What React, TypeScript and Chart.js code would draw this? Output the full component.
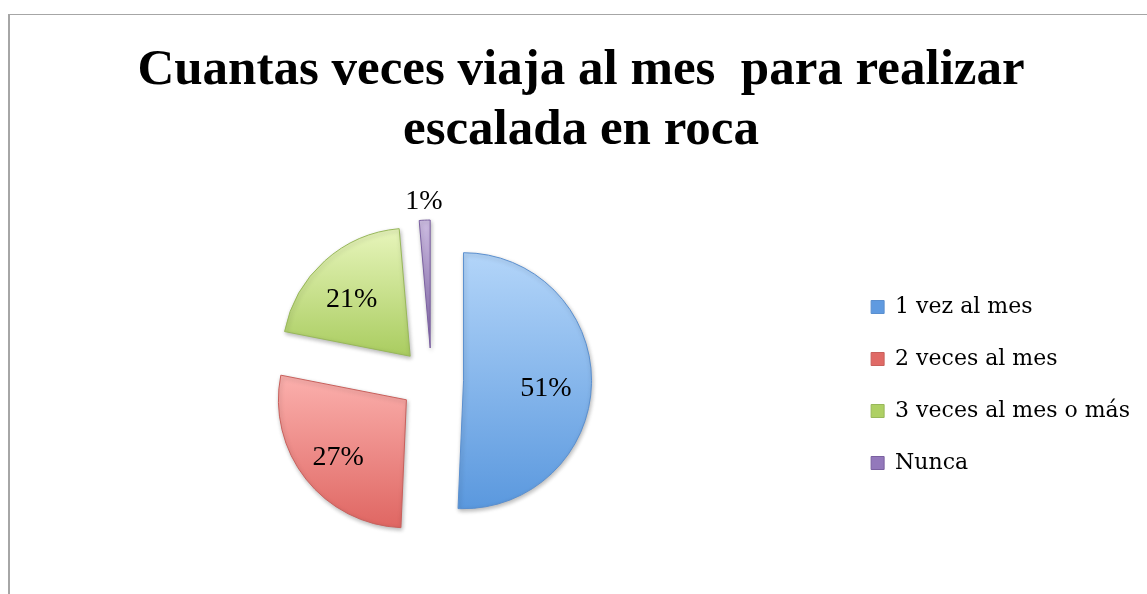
import React, { useEffect, useRef } from 'react';
import { Chart, registerables } from 'chart.js';

Chart.register(...registerables);

const TITLE_LINES = ['Cuantas veces viaja al mes  para realizar', 'escalada en roca'];
const CATEGORIES = ['1 vez al mes', '2 veces al mes', '3 veces al mes o más', 'Nunca'];
// estimated answer counts (labels shown as rounded percentages: 51%, 27%, 21%, 1%)
const VALUES = [37, 20, 15, 1];
const BASE_COLORS = ['#5f9ae0', '#e06a66', '#aed064', '#9378bb'];
const LIGHT_COLORS = ['#b3d5f9', '#fbb0ad', '#e7f5bb', '#cdbde2'];
const DARK_COLORS = ['#5a98de', '#df6662', '#a9cc5f', '#8568ad'];
const EDGE_COLORS = ['#5a8fcf', '#c8605c', '#98b85a', '#7a60a0'];

const EXPLODE = 32;
const RADIUS = 128;

const total = VALUES.reduce((a, b) => a + b, 0);

const slicePlugin = {
  id: 'sliceStyle',
  beforeDatasetsDraw(chart: any) {
    const meta = chart.getDatasetMeta(0);
    const ctx = chart.ctx;
    const area = chart.chartArea;
    const cx = (area.left + area.right) / 2;
    const cy = (area.top + area.bottom) / 2;
    meta.data.forEach((el: any, i: number) => {
      const { startAngle, endAngle } = el;
      const mid = (startAngle + endAngle) / 2;
      // explode each slice outward along its bisector
      el.x = cx + Math.cos(mid) * EXPLODE;
      el.y = cy + Math.sin(mid) * EXPLODE;
      let minY = el.y;
      let maxY = el.y;
      for (let k = 0; k <= 60; k++) {
        const a = startAngle + ((endAngle - startAngle) * k) / 60;
        const py = el.y + Math.sin(a) * el.outerRadius;
        minY = Math.min(minY, py);
        maxY = Math.max(maxY, py);
      }
      const g = ctx.createLinearGradient(el.x, minY, el.x, maxY + 1);
      g.addColorStop(0, LIGHT_COLORS[i]);
      g.addColorStop(1, DARK_COLORS[i]);
      el.options = Object.assign({}, el.options, { backgroundColor: g });
    });
    ctx.save();
    ctx.shadowColor = 'rgba(0,0,0,0.28)';
    ctx.shadowBlur = 4;
    ctx.shadowOffsetX = 1;
    ctx.shadowOffsetY = 2;
  },
  afterDatasetsDraw(chart: any) {
    const ctx = chart.ctx;
    ctx.restore();
    const meta = chart.getDatasetMeta(0);
    ctx.save();
    ctx.font = '28px "Liberation Serif"';
    ctx.fillStyle = '#000000';
    ctx.textAlign = 'center';
    ctx.textBaseline = 'middle';
    meta.data.forEach((el: any, i: number) => {
      const { x, y, startAngle, endAngle, outerRadius } = el;
      const mid = (startAngle + endAngle) / 2;
      const share = VALUES[i] / total;
      const outside = share < 0.05;
      const dist = outside ? outerRadius + 19 : outerRadius * 0.66;
      const dy = outside ? 0 : 6;
      ctx.fillText(
        Math.round(share * 100) + '%',
        x + Math.cos(mid) * dist - (outside ? 0 : 2),
        y + Math.sin(mid) * dist + dy,
      );
    });
    ctx.restore();
  },
};

export default function App() {
  const ref = useRef<HTMLCanvasElement | null>(null);

  useEffect(() => {
    if (!ref.current) return;
    const chart = new Chart(ref.current, {
      type: 'pie',
      data: {
        labels: CATEGORIES,
        datasets: [
          {
            data: VALUES,
            backgroundColor: BASE_COLORS,
            borderColor: EDGE_COLORS,
            borderWidth: 1,
            radius: RADIUS,
            offset: 0,
          } as any,
        ],
      },
      options: {
        responsive: false,
        animation: false,
        events: [],
        layout: { padding: { left: 22, right: 7, top: 0, bottom: 8 } },
        plugins: {
          title: {
            display: true,
            text: TITLE_LINES,
            color: '#000000',
            font: { family: '"Liberation Serif"', size: 51, weight: 'bold', lineHeight: 60 / 51 },
            padding: { top: 41, bottom: 13 },
          },
          legend: {
            display: true,
            position: 'right',
            fullSize: false,
            title: {
              display: true,
              text: '',
              font: { size: 1, lineHeight: 1 },
              padding: { top: 0, bottom: 9 },
            },
            labels: {
              boxWidth: 13,
              boxHeight: 13,
              padding: 30,
              color: '#000000',
              font: { family: '"DejaVu Serif"', size: 22 },
            },
          },
          tooltip: { enabled: false },
        },
      } as any,
      plugins: [slicePlugin],
    });
    return () => chart.destroy();
  }, []);

  return (
    <div
      style={{
        position: 'fixed',
        left: 0,
        top: 0,
        width: 1147,
        height: 594,
        overflow: 'hidden',
        background: '#ffffff',
      }}
    >
      <div
        style={{
          position: 'absolute',
          left: 8,
          top: 14,
          width: 1200,
          height: 700,
          borderLeft: '2px solid #a6a6a6',
          borderTop: '1px solid #a6a6a6',
        }}
      />
      <canvas
        ref={ref}
        width={1147}
        height={594}
        style={{ position: 'absolute', left: 0, top: 0, display: 'block' }}
      />
    </div>
  );
}
